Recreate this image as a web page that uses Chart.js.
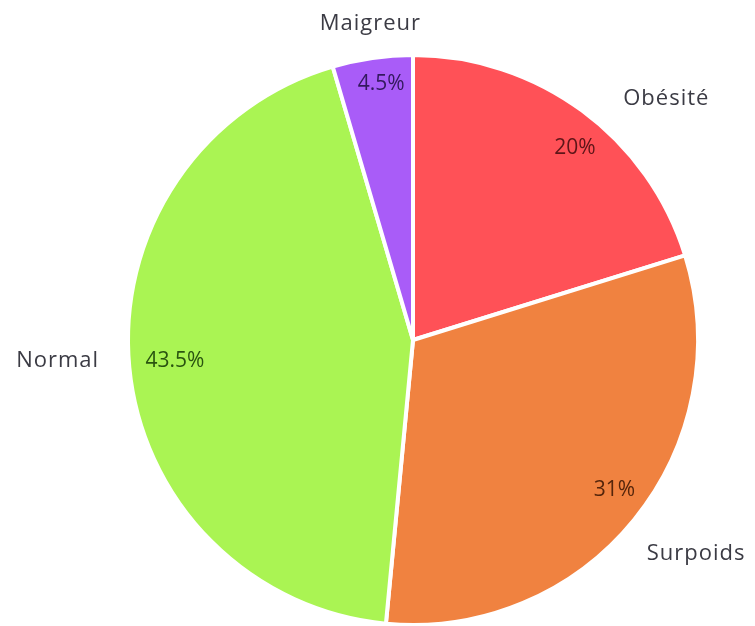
<!DOCTYPE html>
<html>
<head>
<meta charset="utf-8">
<script src="https://cdn.jsdelivr.net/npm/chart.js@4"></script>
<style>
  html, body { margin: 0; padding: 0; background: #fff; overflow: hidden; }
  #wrap { width: 755px; height: 640px; position: relative; }
</style>
</head>
<body>
<div id="wrap"><canvas id="pieChart"></canvas></div>
<script>
// ============================================
// DATA
// ============================================

const LABELS = ['Obésité', 'Surpoids', 'Normal', 'Maigreur'];
const VALUES = [20, 31, 43.5, 4.5];
const PCT_TEXT = ['20%', '31%', '43.5%', '4.5%'];

const COLORS = ['#ff5157', '#f08240', '#aaf453', '#a95cf8'];
const PCT_COLORS = ['#5e1518', '#55250b', '#2a5410', '#33195e'];

// label placement: distance from centre (px) and angular nudge (deg)
const PCT_DIST = [251, 251, 239, 258];
const PCT_SHIFT = [3.8, -2.5, 0.5, 1.1];
const NAME_DIST = [350, 355, 356, 319];
const NAME_SHIFT = [10, -2, 2.1, 0.5];

// ============================================
// LABEL PLUGIN
// ============================================

function drawAt(ctx, text, arc, mid, dist, shiftDeg) {
  const a = mid + (shiftDeg * Math.PI) / 180;
  ctx.fillText(text, arc.x + Math.cos(a) * dist, arc.y + Math.sin(a) * dist);
}

const pieLabels = {
  id: 'pieLabels',
  afterDatasetsDraw(chart) {
    const ctx = chart.ctx;
    const meta = chart.getDatasetMeta(0);
    ctx.save();
    ctx.textAlign = 'center';
    ctx.textBaseline = 'middle';
    meta.data.forEach((arc, i) => {
      const mid = (arc.startAngle + arc.endAngle) / 2;

      ctx.font = '500 21px "Open Sans", sans-serif';
      ctx.letterSpacing = '0px';
      ctx.fillStyle = PCT_COLORS[i];
      drawAt(ctx, PCT_TEXT[i], arc, mid, PCT_DIST[i], PCT_SHIFT[i]);

      ctx.font = '500 22px "Open Sans", sans-serif';
      ctx.letterSpacing = '1px';
      ctx.fillStyle = '#3b3b44';
      drawAt(ctx, LABELS[i], arc, mid, NAME_DIST[i], NAME_SHIFT[i]);
    });
    ctx.restore();
  },
};

// ============================================
// CHART
// ============================================

new Chart(document.getElementById('pieChart'), {
  type: 'pie',
  data: {
    labels: LABELS,
    datasets: [
      {
        data: VALUES,
        backgroundColor: COLORS,
        borderColor: '#ffffff',
        borderWidth: 4,
      },
    ],
  },
  options: {
    responsive: true,
    maintainAspectRatio: false,
    animation: false,
    layout: { padding: { left: 126, right: 55, top: 53, bottom: 13 } },
    plugins: {
      legend: { display: false },
      tooltip: { enabled: false },
    },
  },
  plugins: [pieLabels],
});
</script>
</body>
</html>
